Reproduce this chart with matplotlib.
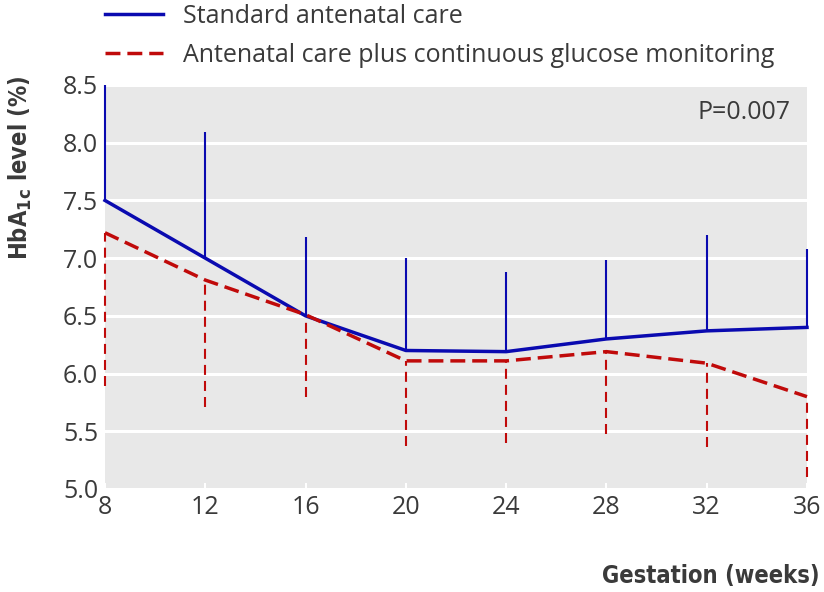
import matplotlib
matplotlib.use("Agg")
import matplotlib.pyplot as plt

plt.rcParams['font.family'] = ['Open Sans', 'DejaVu Sans']

weeks = [8, 12, 16, 20, 24, 28, 32, 36]
std_mean = [7.50, 7.00, 6.50, 6.20, 6.19, 6.30, 6.37, 6.40]
std_upper = [8.50, 8.09, 7.18, 7.00, 6.88, 6.98, 7.20, 7.08]
cgm_mean = [7.22, 6.81, 6.51, 6.11, 6.11, 6.19, 6.09, 5.80]
cgm_lower = [5.89, 5.71, 5.80, 5.37, 5.40, 5.48, 5.36, 5.10]

blue = '#0a0ab0'
red = '#c00a0a'
grey = '#3a3a3a'

fig = plt.figure(figsize=(8.24, 5.92), dpi=100)
ax = fig.add_axes([105 / 824, 1 - 489 / 592, 702 / 824, 404 / 592])
ax.set_facecolor('#e8e8e8')
for s in ax.spines.values():
    s.set_visible(False)

# error bars: upper SD for standard care, lower SD for CGM
ax.vlines(weeks, std_mean, std_upper, color=blue, linewidth=1.5, zorder=3,
          clip_on=False)
ax.vlines(weeks, cgm_lower, cgm_mean, color=red, linewidth=1.5,
          linestyles=(0, (4.8, 2.9)), zorder=3, clip_on=False)

ax.plot(weeks, std_mean, color=blue, linewidth=2.5, zorder=4, clip_on=False,
        label='Standard antenatal care')
ax.plot(weeks, cgm_mean, color=red, linewidth=2.5, linestyle=(0, (4.3, 2.0)),
        zorder=4, clip_on=False,
        label='Antenatal care plus continuous glucose monitoring')

ax.set_xlim(8, 36)
ax.set_ylim(5.0, 8.5)
ax.set_xticks(weeks)
ax.set_yticks([5.0, 5.5, 6.0, 6.5, 7.0, 7.5, 8.0, 8.5])
ax.set_yticklabels(['5.0', '5.5', '6.0', '6.5', '7.0', '7.5', '8.0', '8.5'])
ax.yaxis.grid(True, color='white', linewidth=2.2)
ax.set_axisbelow(True)
ax.tick_params(axis='y', length=0, labelsize=18, labelcolor=grey, pad=5)
ax.tick_params(axis='x', direction='in', length=4, width=1.5, color='white',
               labelsize=18, labelcolor=grey, pad=4)

ax.text(0.976, 0.931, 'P=0.007', transform=ax.transAxes, ha='right', va='center',
        fontsize=18, color=grey)

fig.text(20 / 824, 1 - 168 / 592, 'HbA$_{\\mathbf{1c}}$ level (%)', rotation=90,
         ha='center', va='center', fontsize=17, fontweight='bold', color=grey,
         family='DejaVu Sans', fontstretch='condensed')
fig.text(820 / 824, 1 - 576 / 592, 'Gestation (weeks)', ha='right', va='center',
         fontsize=17, fontweight='bold', color=grey,
         family='DejaVu Sans', fontstretch='condensed')

fig.legend(loc='upper left', bbox_to_anchor=(105 / 824, 1 - 4 / 592), frameon=False,
           fontsize=18, handlelength=2.32, handletextpad=0.8, labelspacing=0.55,
           borderpad=0, borderaxespad=0, labelcolor=grey)

fig.savefig('out.png', dpi=100)
